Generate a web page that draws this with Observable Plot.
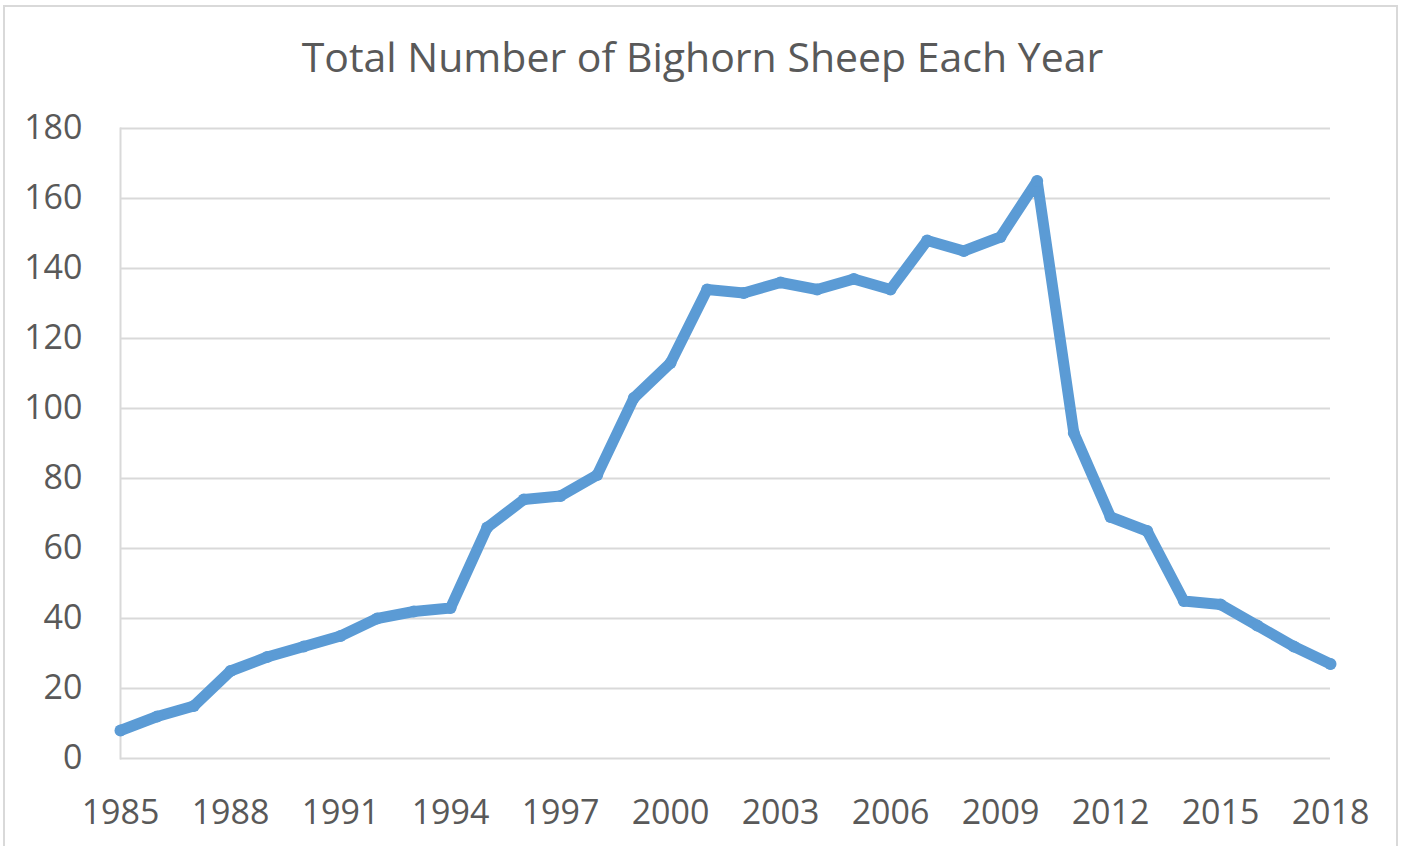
<!DOCTYPE html>
<html>
<head>
<meta charset="utf-8">
<script src="https://cdn.jsdelivr.net/npm/d3@7"></script>
<script src="https://cdn.jsdelivr.net/npm/@observablehq/plot@0.6"></script>
<style>
  html, body { margin: 0; padding: 0; background: #fff; }
  #wrap { position: relative; width: 1405px; height: 846px; overflow: hidden; background: #fff; }
  #border { position: absolute; left: 3px; top: 5px; width: 1395px; height: 860px; border: 2px solid #d9d9d9; box-sizing: border-box; }
  #title { position: relative; height: 100px; box-sizing: border-box; padding-top: 36px; line-height: 1; text-align: center;
           font-family: "Open Sans", sans-serif; font-size: 41px; color: #595959; white-space: nowrap; }
  #chart { position: relative; }
</style>
</head>
<body>
<div id="wrap">
  <div id="border"></div>
  <div id="title">Total Number of Bighorn Sheep Each Year</div>
  <div id="chart"></div>
</div>
<script>
const years = [1985,1986,1987,1988,1989,1990,1991,1992,1993,1994,1995,1996,1997,1998,1999,2000,2001,2002,2003,2004,2005,2006,2007,2008,2009,2010,2011,2012,2013,2014,2015,2016,2017,2018];
const sheep = [8,12,15,25,29,32,35,40,42,43,66,74,75,81,103,113,134,133,136,134,137,134,148,145,149,165,93,69,65,45,44,38,32,27];
const yTicks = [0,20,40,60,80,100,120,140,160,180];
const xTicks = [1985,1988,1991,1994,1997,2000,2003,2006,2009,2012,2015,2018];

const data = years.map((y, i) => ({year: y, value: sheep[i]}));

const chart = Plot.plot({
  width: 1405,
  height: 746,
  marginTop: 28,
  marginBottom: 88,
  marginLeft: 120,
  marginRight: 75,
  style: { fontFamily: "Open Sans, sans-serif", fontSize: "34px", color: "#595959", background: "transparent" },
  x: { domain: [years[0], years[years.length - 1]], ticks: xTicks, tickFormat: d3.format("d"), tickSize: 0, tickPadding: 41, label: null },
  y: { domain: [yTicks[0], yTicks[yTicks.length - 1]], ticks: yTicks, tickSize: 0, tickPadding: 38, label: null },
  marks: [
    Plot.ruleY(yTicks, { stroke: "#d9d9d9", strokeWidth: 2 }),
    Plot.frame({ anchor: "left", stroke: "#d9d9d9", strokeWidth: 2 }),
    Plot.line(data, { x: "year", y: "value", stroke: "#5b9bd5", strokeWidth: 11, strokeLinejoin: "round", strokeLinecap: "round" }),
    Plot.dot(data, { x: "year", y: "value", fill: "#5b9bd5", r: 6 })
  ]
});
document.getElementById("chart").appendChild(chart);
</script>
</body>
</html>
